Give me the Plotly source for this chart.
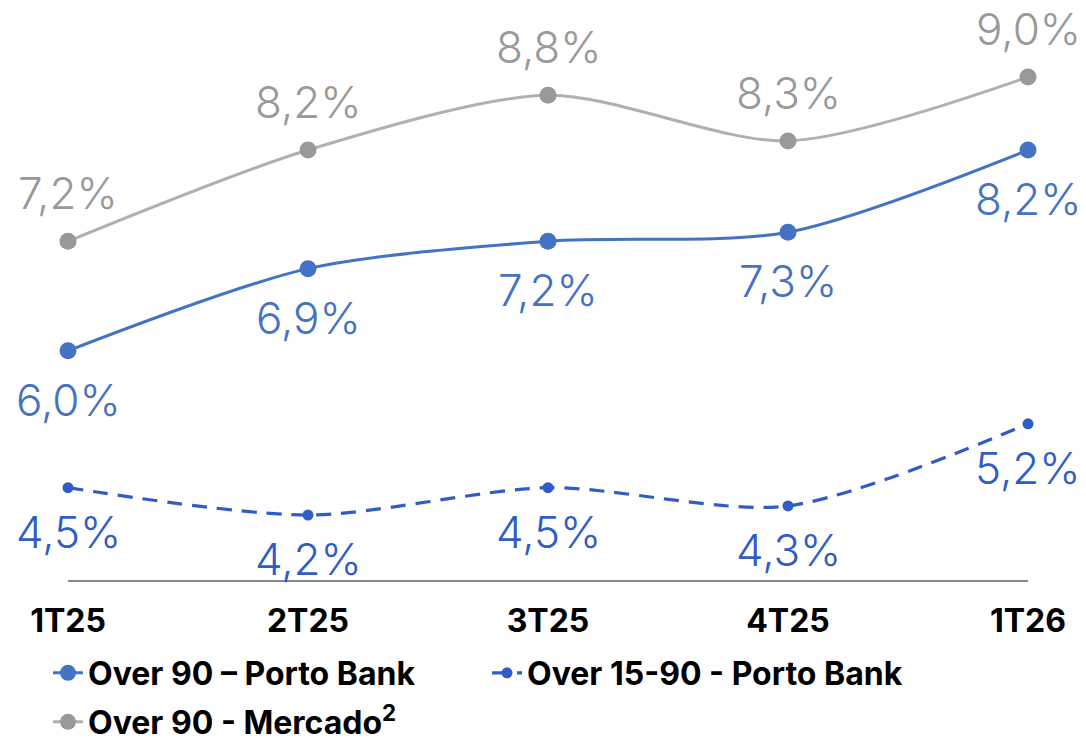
import plotly.graph_objects as go

categories = ["1T25", "2T25", "3T25", "4T25", "1T26"]
over90_porto = [6.0, 6.9, 7.2, 7.3, 8.2]
over15_90_porto = [4.5, 4.2, 4.5, 4.3, 5.2]
over90_mercado = [7.2, 8.2, 8.8, 8.3, 9.0]

BLUE = "#4472C4"
DBLUE = "#2F5CC6"
GRAY_LINE = "#B0B0B0"
GRAY_MARK = "#999999"
LABEL_FONT = "Inter"

W, H = 1078, 734  # page body has an 8px margin

xs = list(range(len(categories)))

def fmt(v):
    return f"{v:.1f}".replace(".", ",") + "%"

fig = go.Figure()
fig.add_trace(go.Scatter(
    x=xs, y=over90_porto, mode="lines+markers", name="Over 90 – Porto Bank",
    line=dict(color=BLUE, width=3, shape="spline", smoothing=0.8),
    marker=dict(color=BLUE, size=17), cliponaxis=False, legend="legend"))
fig.add_trace(go.Scatter(
    x=xs, y=over15_90_porto, mode="lines+markers", name="Over 15-90 - Porto Bank",
    line=dict(color=DBLUE, width=3.2, shape="spline", smoothing=0.8, dash="15px,10px"),
    marker=dict(color=DBLUE, size=11), cliponaxis=False, legend="legend"))
fig.add_trace(go.Scatter(
    x=xs, y=over90_mercado, mode="lines+markers", name="Over 90 - Mercado<sup>2</sup>",
    line=dict(color=GRAY_LINE, width=3, shape="spline", smoothing=0.8),
    marker=dict(color=GRAY_MARK, size=17), cliponaxis=False, legend="legend2"))

annotations = []
for series, color, shift in [(over90_mercado, GRAY_MARK, 48),
                             (over90_porto, BLUE, -49),
                             (over15_90_porto, DBLUE, -44)]:
    for x, v in zip(xs, series):
        annotations.append(dict(
            x=x, y=v, xref="x", yref="y", text=fmt(v), showarrow=False,
            yshift=shift, font=dict(family=LABEL_FONT, size=44, color=color, weight=300),
            xanchor="center", yanchor="middle"))

legend_font = dict(family="Inter", size=32, color="black", weight=700)
fig.update_layout(
    width=W, height=H,
    margin=dict(l=60, r=58, t=12, b=162, autoexpand=False),
    paper_bgcolor="white", plot_bgcolor="white",
    showlegend=True,
    legend=dict(orientation="h", xref="container", yref="container",
                x=40 / W, y=1 - 665 / H, xanchor="left", yanchor="middle",
                font=legend_font, entrywidth=394, entrywidthmode="pixels",
                itemwidth=30),
    legend2=dict(orientation="h", xref="container", yref="container",
                 x=40 / W, y=1 - 714 / H, xanchor="left", yanchor="middle",
                 font=legend_font, itemwidth=30),
    annotations=annotations,
    xaxis=dict(range=[0, 4], tickmode="array", tickvals=xs, ticktext=categories,
               showgrid=False, zeroline=False, showline=True, linecolor="#888888",
               linewidth=2, ticks="", ticklabelstandoff=12, automargin=False,
               tickfont=dict(family="Inter", size=32, color="black", weight=700)),
    yaxis=dict(range=[3.488, 9.625], visible=False, showgrid=False, zeroline=False),
)

fig.write_html("out.html")
